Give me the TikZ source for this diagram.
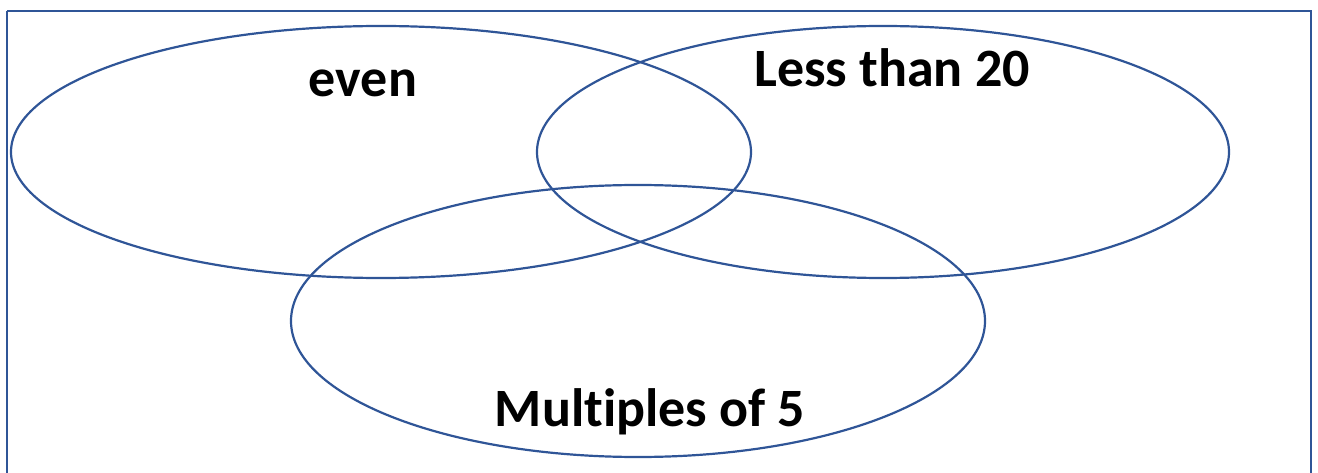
\documentclass[tikz,border=0pt]{standalone}
\usepackage{fontspec}
\setmainfont[Ligatures=NoCommon]{Carlito}
\definecolor{vblue}{RGB}{47,85,151}
\begin{document}
\begin{tikzpicture}[x=1pt,y=-1pt,
  setline/.style={draw=vblue,line width=2.2pt},
  setlabel/.style={font=\fontsize{54}{64}\selectfont\bfseries,text=black,inner sep=0pt,anchor=base}]
\useasboundingbox (0,0) rectangle (1318,473);
\draw[draw=vblue,line width=2.6pt] (7,11) -- (1311,11) -- (1311,490) (7,11) -- (7,490);
\draw[setline] (381,152) ellipse [x radius=370,y radius=126];
\draw[setline] (883,152) ellipse [x radius=346,y radius=126];
\draw[setline] (638,321) ellipse [x radius=347,y radius=136];
\node[setlabel] (even) at (363,97) {even};
\node[setlabel] (less) at (892,87) {Less than 20};
\node[setlabel] (mult) at (650,426) {Multiples of 5};
\end{tikzpicture}
\end{document}
